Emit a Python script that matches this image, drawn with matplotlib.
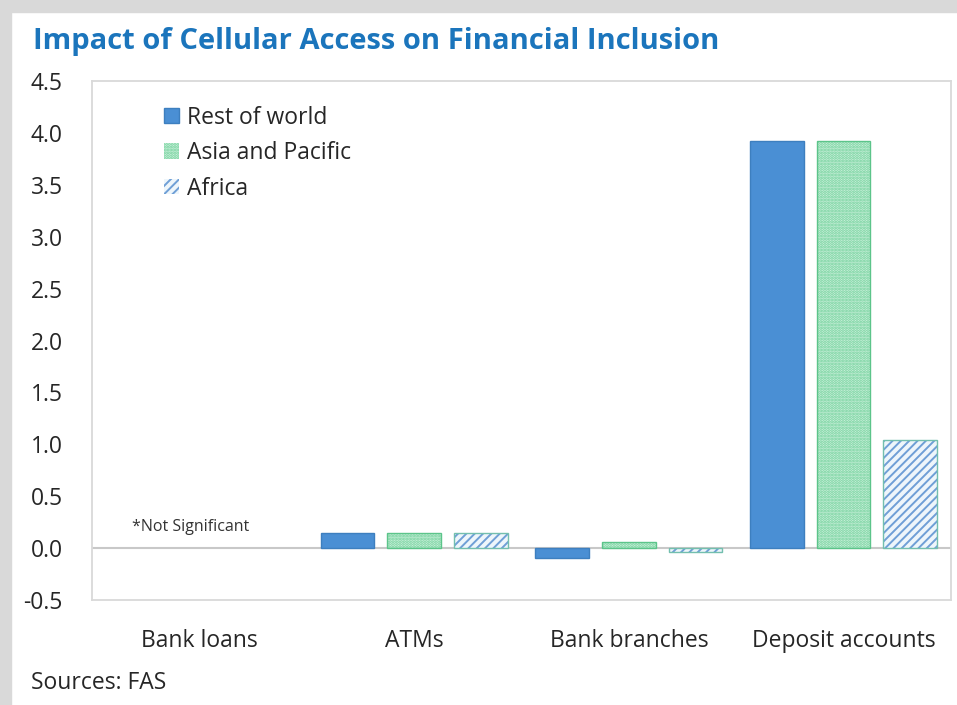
import matplotlib
matplotlib.use("Agg")
import matplotlib.pyplot as plt
import numpy as np
from matplotlib.patches import Rectangle

categories = ["Bank loans", "ATMs", "Bank branches", "Deposit accounts"]
series_names = ["Rest of world", "Asia and Pacific", "Africa"]
rest_of_world = [np.nan, 0.15, -0.10, 3.92]
asia_pacific = [np.nan, 0.15, 0.06, 3.92]
africa = [np.nan, 0.15, -0.04, 1.04]
y_ticks = [-0.5, 0.0, 0.5, 1.0, 1.5, 2.0, 2.5, 3.0, 3.5, 4.0, 4.5]

plt.rcParams['font.family'] = ['Open Sans', 'DejaVu Sans']
plt.rcParams['hatch.linewidth'] = 1.4

FS = 16.5

fig = plt.figure(figsize=(9.57, 7.05), dpi=100)
fig.patch.set_facecolor('white')
# grey frame strips
fig.add_artist(Rectangle((0, 0), 11/957, 1, transform=fig.transFigure, color='#d9d9d9', zorder=0))
fig.add_artist(Rectangle((0, 1-12/705), 1, 12/705, transform=fig.transFigure, color='#d9d9d9', zorder=0))

ax = fig.add_axes([92/957, 1-600/705, (951-92)/957, (600-81)/705])

x = np.arange(len(categories))
w = 0.25
off = 0.31

ax.bar(x - off, rest_of_world, w, color='#4a8fd4', edgecolor='#3d7fbf', linewidth=1.0,
       label=series_names[0], zorder=3)
ax.bar(x, asia_pacific, w, color='#cdf2dd', edgecolor='#6fcf99', hatch='......', linewidth=0,
       label=series_names[1], zorder=3)
ax.bar(x, asia_pacific, w, fill=False, edgecolor='#5cc48a', linewidth=1.0, zorder=4)
ax.bar(x + off, africa, w, color='#eef6fb', edgecolor='#6f9fd6', hatch='////', linewidth=0,
       label=series_names[2], zorder=3)
ax.bar(x + off, africa, w, fill=False, edgecolor='#73bfae', linewidth=1.0, zorder=4)

ax.axhline(0, color='#c8c8c8', linewidth=1.5, zorder=2)

ax.set_xlim(-0.5, 3.5)
ax.set_ylim(-0.5, 4.5)
ax.set_yticks(y_ticks)
ax.set_yticklabels([f"{v:.1f}" for v in y_ticks], fontsize=FS, color='#262626')
ax.set_xticks(x)
ax.set_xticklabels(categories, fontsize=FS, color='#262626')
ax.tick_params(axis='both', length=0)
ax.tick_params(axis='y', pad=21)
ax.tick_params(axis='x', pad=21)
for s in ax.spines.values():
    s.set_color('#d9d9d9')
    s.set_linewidth(1.3)

ax.text(-0.314, 0.2, "*Not Significant", fontsize=11.5, color='#333333',
        ha='left', va='center')

leg = ax.legend(loc='upper left', bbox_to_anchor=(0.073, 0.97), frameon=False, fontsize=FS,
                handlelength=0.65, handleheight=0.65, handletextpad=0.35, labelspacing=0.5,
                borderaxespad=0)
for t in leg.get_texts():
    t.set_color('#262626')

fig.text(33/957, 1-38/705, "Impact of Cellular Access on Financial Inclusion", fontsize=21,
         fontweight='bold', color='#1b75bc', ha='left', va='center_baseline')
fig.text(31/957, 1-683/705, "Sources: FAS", fontsize=FS, color='#262626', ha='left', va='center')

fig.savefig("out.png", dpi=100)
